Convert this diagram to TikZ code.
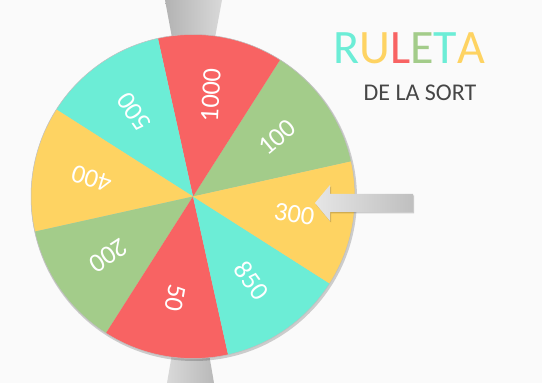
\documentclass[tikz,border=0pt]{standalone}
\usepackage{fontspec}
\setmainfont{Carlito}
\usepackage{tikz}
\usetikzlibrary{calc,positioning}

\definecolor{wred}{RGB}{248,99,99}
\definecolor{wcyan}{RGB}{108,237,214}
\definecolor{wgreen}{RGB}{163,204,138}
\definecolor{wyellow}{RGB}{254,211,98}
\definecolor{paper}{RGB}{250,250,250}
\definecolor{ink}{RGB}{70,70,70}

\begin{document}
\begin{tikzpicture}[x=1pt, y=1pt,
    value/.style={text=white, font=\fontsize{26.5}{26.5}\selectfont, inner sep=0pt},
    pointer/.style={left color=gray!60, right color=gray!30},
    shadowed/.style={black, opacity=0.18}]

    \useasboundingbox[fill=paper] (0,0) rectangle (542,383);
    \coordinate (hub) at (193,186.5);

    % pointers behind the wheel
    \shade[pointer] (165,383) -- (222,383) -- (214,340) -- (173,340) -- cycle;
    \shade[pointer, left color=gray!30, right color=gray!55] (173,35) -- (208,35) -- (214,0) -- (167,0) -- cycle;

    % wheel
    \fill[shadowed] ($(hub)+(1,-1.5)$) circle[radius=163];
    \foreach \a/\c/\v/\r in {12.5/wgreen/100/40, 57.5/wred/1000/87, 102.5/wcyan/500/125, 147.5/wyellow/400/163,
                             192.5/wgreen/200/213, 237.5/wred/50/260, 282.5/wcyan/850/306, 327.5/wyellow/300/351}{
        \pgfmathsetmacro\m{\a+22.5}
        \fill[\c] (hub) -- ++(\a:162) arc[start angle=\a, delta angle=45, radius=162] -- cycle;
        \node[value, rotate=\r] (v\v) at ($(hub)+(\m:103)$) {\v};
    }
    \draw[black!25, line width=0.5pt] (hub) circle[radius=162];

    % arrow
    \fill[shadowed] (316,178.5) -- (331,196.5) -- (331,187.5) -- (414,187.5) -- (414,169.5) -- (331,169.5) -- (331,160.5) -- cycle;
    \shade[left color=gray!20, right color=gray!50] (315,180) -- (330,198) -- (330,189) -- (413,189) -- (413,171) -- (330,171) -- (330,162) -- cycle;

    % title
    \node[inner sep=0pt, font=\fontsize{48}{48}\selectfont] (title) at (409,334.5)
        {\textcolor{wcyan}{R}\textcolor{wyellow}{U}\textcolor{wred}{L}\textcolor{wgreen}{E}\textcolor{wcyan}{T}\textcolor{wyellow}{A}};
    \node[ink, inner sep=0pt, font=\fontsize{24}{24}\selectfont, below=20pt of title, xshift=11pt] (subtitle) {DE LA SORT};

\end{tikzpicture}
\end{document}
